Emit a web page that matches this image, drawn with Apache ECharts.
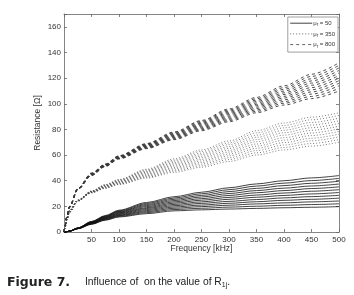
<!DOCTYPE html>
<html>
<head>
<meta charset="utf-8">
<script src="https://cdn.jsdelivr.net/npm/echarts@6/dist/echarts.min.js"></script>
<style>
  html, body { margin: 0; padding: 0; background: #fff; }
  #chart { width: 354px; height: 295px; }
</style>
</head>
<body>
<div id="chart"></div>
<script>
// frequency grid in kHz (shared by all curves)
const FREQ = [0, 2, 5, 10, 25, 50, 75, 100, 150, 200, 250, 300, 350, 400, 450, 500];

// mu_r = 50 : solid curves
const MU50 = [
  [0, 0, 0.2, 0.6, 2.5, 6.0, 9.2, 11.7, 14.3, 16.5, 17.3, 17.9, 18.4, 18.9, 19.3, 19.8],
  [0, 0, 0.2, 0.6, 2.6, 6.2, 9.5, 12.2, 15.1, 17.5, 18.5, 19.4, 20.1, 20.8, 21.4, 22.0],
  [0, 0, 0.2, 0.6, 2.6, 6.4, 9.9, 12.7, 15.9, 18.5, 19.8, 20.9, 21.9, 22.7, 23.5, 24.2],
  [0, 0, 0.2, 0.7, 2.7, 6.6, 10.2, 13.1, 16.7, 19.5, 21.0, 22.4, 23.6, 24.7, 25.5, 26.4],
  [0, 0, 0.2, 0.7, 2.8, 6.8, 10.5, 13.6, 17.5, 20.5, 22.3, 23.9, 25.3, 26.6, 27.6, 28.6],
  [0, 0, 0.2, 0.7, 2.8, 7.0, 10.8, 14.1, 18.3, 21.5, 23.5, 25.5, 27.1, 28.5, 29.7, 30.8],
  [0, 0, 0.2, 0.7, 2.9, 7.2, 11.2, 14.6, 19.0, 22.5, 24.8, 27.0, 28.8, 30.4, 31.8, 33.0],
  [0, 0, 0.2, 0.7, 3.0, 7.4, 11.5, 15.1, 19.8, 23.5, 26.0, 28.5, 30.6, 32.3, 33.9, 35.2],
  [0, 0, 0.2, 0.8, 3.0, 7.6, 11.8, 15.6, 20.6, 24.5, 27.3, 30.0, 32.3, 34.2, 35.9, 37.4],
  [0, 0, 0.2, 0.8, 3.1, 7.8, 12.1, 16.0, 21.4, 25.5, 28.5, 31.5, 34.0, 36.2, 38.0, 39.6],
  [0, 0, 0.2, 0.8, 3.1, 8.0, 12.5, 16.5, 22.2, 26.5, 29.8, 33.0, 35.8, 38.1, 40.1, 41.8],
  [0, 0, 0.2, 0.8, 3.2, 8.2, 12.8, 17.0, 23.0, 27.5, 31.0, 34.5, 37.5, 40.0, 42.2, 44.0]
];

// mu_r = 350 : dotted curves
const MU350 = [
  [0, 3.5, 9.0, 15.0, 24.0, 30.5, 34.0, 37.0, 42.0, 46.5, 50.5, 55.0, 60.0, 64.0, 67.0, 70.0],
  [0, 3.5, 9.1, 15.2, 24.1, 30.6, 34.3, 37.4, 42.6, 47.5, 51.7, 56.5, 61.7, 65.9, 69.0, 72.1],
  [0, 3.6, 9.2, 15.4, 24.2, 30.8, 34.5, 37.7, 43.3, 48.4, 53.0, 57.9, 63.5, 67.8, 71.1, 74.2],
  [0, 3.6, 9.3, 15.5, 24.3, 30.9, 34.8, 38.1, 43.9, 49.4, 54.2, 59.4, 65.2, 69.7, 73.1, 76.3],
  [0, 3.7, 9.4, 15.7, 24.4, 31.0, 35.1, 38.5, 44.5, 50.3, 55.4, 60.8, 66.9, 71.6, 75.2, 78.4],
  [0, 3.7, 9.5, 15.9, 24.5, 31.2, 35.4, 38.8, 45.2, 51.3, 56.6, 62.3, 68.6, 73.5, 77.2, 80.5],
  [0, 3.8, 9.5, 16.1, 24.5, 31.3, 35.6, 39.2, 45.8, 52.2, 57.9, 63.7, 70.4, 75.5, 79.3, 82.5],
  [0, 3.8, 9.6, 16.3, 24.6, 31.5, 35.9, 39.5, 46.5, 53.2, 59.1, 65.2, 72.1, 77.4, 81.3, 84.6],
  [0, 3.9, 9.7, 16.5, 24.7, 31.6, 36.2, 39.9, 47.1, 54.1, 60.3, 66.6, 73.8, 79.3, 83.4, 86.7],
  [0, 3.9, 9.8, 16.6, 24.8, 31.7, 36.5, 40.3, 47.7, 55.1, 61.5, 68.1, 75.5, 81.2, 85.4, 88.8],
  [0, 4.0, 9.9, 16.8, 24.9, 31.9, 36.7, 40.6, 48.4, 56.0, 62.8, 69.5, 77.3, 83.1, 87.5, 90.9],
  [0, 4.0, 10.0, 17.0, 25.0, 32.0, 37.0, 41.0, 49.0, 57.0, 64.0, 71.0, 79.0, 85.0, 89.5, 93.0]
];

// mu_r = 800 : dashed curves
const MU800 = [
  [0, 4.5, 11.0, 19.0, 33.0, 44.0, 51.0, 57.0, 65.0, 72.0, 79.0, 86.0, 93.0, 99.0, 104.0, 110.0],
  [0, 4.5, 11.1, 19.1, 33.1, 44.2, 51.2, 57.2, 65.4, 72.5, 79.7, 86.9, 94.1, 100.4, 105.7, 112.0],
  [0, 4.6, 11.2, 19.2, 33.2, 44.4, 51.4, 57.5, 65.7, 73.1, 80.5, 87.8, 95.2, 101.7, 107.5, 114.0],
  [0, 4.6, 11.3, 19.3, 33.3, 44.5, 51.5, 57.7, 66.1, 73.6, 81.2, 88.7, 96.3, 103.1, 109.2, 116.0],
  [0, 4.7, 11.4, 19.4, 33.4, 44.7, 51.7, 57.9, 66.5, 74.2, 81.9, 89.6, 97.4, 104.5, 110.9, 118.0],
  [0, 4.7, 11.5, 19.5, 33.5, 44.9, 51.9, 58.1, 66.8, 74.7, 82.6, 90.5, 98.5, 105.8, 112.6, 120.0],
  [0, 4.8, 11.5, 19.5, 33.5, 45.1, 52.1, 58.4, 67.2, 75.3, 83.4, 91.5, 99.5, 107.2, 114.4, 122.0],
  [0, 4.8, 11.6, 19.6, 33.6, 45.3, 52.3, 58.6, 67.5, 75.8, 84.1, 92.4, 100.6, 108.5, 116.1, 124.0],
  [0, 4.9, 11.7, 19.7, 33.7, 45.5, 52.5, 58.8, 67.9, 76.4, 84.8, 93.3, 101.7, 109.9, 117.8, 126.0],
  [0, 4.9, 11.8, 19.8, 33.8, 45.6, 52.6, 59.0, 68.3, 76.9, 85.5, 94.2, 102.8, 111.3, 119.5, 128.0],
  [0, 5.0, 11.9, 19.9, 33.9, 45.8, 52.8, 59.3, 68.6, 77.5, 86.3, 95.1, 103.9, 112.6, 121.3, 130.0],
  [0, 5.0, 12.0, 20.0, 34.0, 46.0, 53.0, 59.5, 69.0, 78.0, 87.0, 96.0, 105.0, 114.0, 123.0, 132.0]
];

const LEGEND_NAMES = ["μr = 50", "μr = 350", "μr = 800"];
const X_TICK_STEP = 50;
const Y_TICK_STEP = 20;

const FONT = "Liberation Sans";

//build one line series per curve, all curves of a family share the legend name
function familySeries(curves, name, lineStyle) {
    return curves.map(vals => ({
        name: name,
        type: "line",
        data: FREQ.map((f, i) => [f, vals[i]]),
        symbol: "none",
        smooth: 0.3,
        smoothMonotone: "x",
        silent: true,
        lineStyle: lineStyle
    }));
}

let series = [
    ...familySeries(MU50, LEGEND_NAMES[0], { color: "#111", width: 0.8, type: "solid" }),
    ...familySeries(MU350, LEGEND_NAMES[1], { color: "#444", width: 0.7, type: [1, 2] }),
    ...familySeries(MU800, LEGEND_NAMES[2], { color: "#3a3a3a", width: 0.9, type: [3, 3] })
];

//onZero off so the top/right axes stay on the box edges
const AXIS_LINE = { show: true, onZero: false, lineStyle: { color: "#666", width: 0.8 } };
const AXIS_TICK = { show: true, inside: true, length: 3, lineStyle: { color: "#666", width: 0.8 } };

let myChart = echarts.init(document.getElementById("chart"), null, { renderer: "canvas" });

let option = {
    animation: false,
    backgroundColor: "#fff",
    grid: { left: 64, right: 15, top: 14, bottom: 63 },
    legend: {
        data: LEGEND_NAMES,
        orient: "vertical",
        right: 16,
        top: 17,
        backgroundColor: "#fff",
        borderColor: "#888",
        borderWidth: 0.8,
        borderRadius: 0,
        padding: [3, 3, 3, 2],
        itemGap: 3,
        itemWidth: 22,
        itemHeight: 8,
        itemStyle: { opacity: 0 },
        lineStyle: { width: 0.8 },
        formatter: n => n.replace("μr", "μ{sub|r}"),
        textStyle: {
            fontFamily: FONT,
            fontSize: 6,
            color: "#333",
            padding: [0, 0, 0, -4],
            rich: { sub: { fontSize: 4.5, fontFamily: FONT, color: "#333", padding: [4, 0, 0, 0] } }
        }
    },
    xAxis: [
        {
            type: "value",
            min: 0,
            max: 500,
            interval: X_TICK_STEP,
            name: "Frequency [kHz]",
            nameLocation: "middle",
            nameGap: 12,
            nameMoveOverlap: false,
            nameTextStyle: { fontFamily: FONT, fontSize: 8.5, color: "#333" },
            axisLine: AXIS_LINE,
            axisTick: AXIS_TICK,
            splitLine: { show: false },
            axisLabel: {
                fontFamily: FONT, fontSize: 8, color: "#333", margin: 4,
                formatter: v => (v === 0 ? "" : v)
            }
        },
        {
            type: "value",
            position: "top",
            min: 0,
            max: 500,
            interval: X_TICK_STEP,
            axisLine: AXIS_LINE,
            axisTick: AXIS_TICK,
            splitLine: { show: false },
            axisLabel: { show: false }
        }
    ],
    yAxis: [
        {
            type: "value",
            min: 0,
            max: 170,
            interval: Y_TICK_STEP,
            name: "Resistance [Ω]",
            nameLocation: "middle",
            nameGap: 22,
            nameMoveOverlap: false,
            nameTextStyle: { fontFamily: FONT, fontSize: 8.5, color: "#333" },
            axisLine: AXIS_LINE,
            axisTick: AXIS_TICK,
            splitLine: { show: false },
            axisLabel: {
                fontFamily: FONT, fontSize: 8, color: "#333", margin: 3,
                formatter: v => (v % Y_TICK_STEP === 0 ? v : "")
            }
        },
        {
            type: "value",
            position: "right",
            min: 0,
            max: 170,
            interval: Y_TICK_STEP,
            axisLine: AXIS_LINE,
            axisTick: AXIS_TICK,
            splitLine: { show: false },
            axisLabel: { show: false }
        }
    ],
    series: series,
    graphic: [
        {
            type: "text",
            left: 7,
            top: 276,
            style: {
                text: "Figure 7.",
                fontFamily: "DejaVu Sans",
                fontWeight: "bold",
                fontSize: 12.5,
                fill: "#222"
            }
        },
        {
            type: "text",
            left: 85,
            top: 277,
            style: {
                text: "Influence of  on the value of R{s|1j}.",
                fontFamily: FONT,
                fontSize: 10.3,
                fill: "#222",
                rich: {
                    s: { fontFamily: FONT, fontSize: 7, fill: "#222", padding: [6, 0, 0, 0] }
                }
            }
        }
    ]
};

myChart.setOption(option);
</script>
</body>
</html>
